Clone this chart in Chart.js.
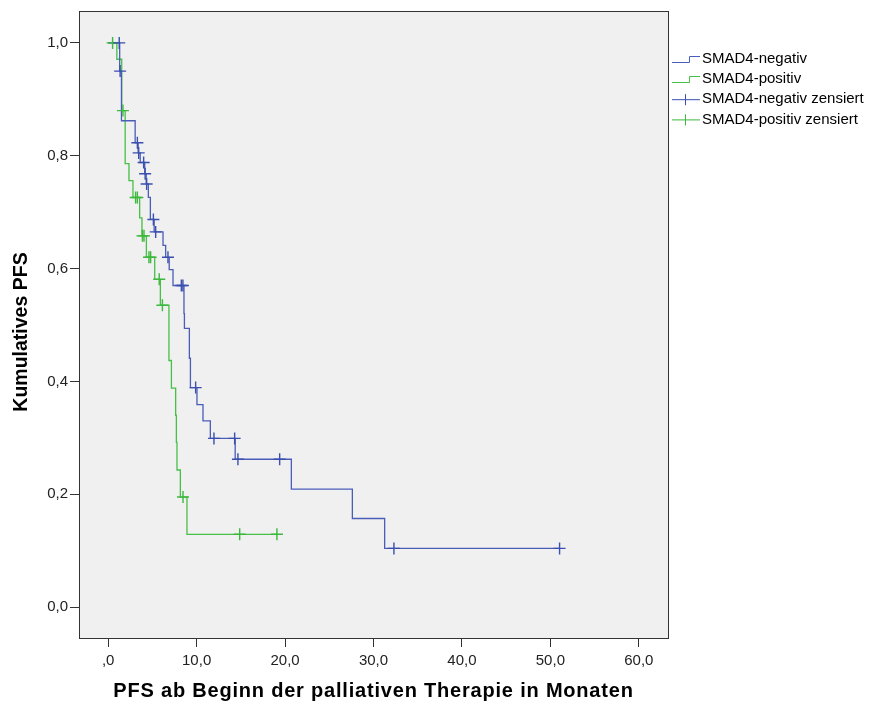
<!DOCTYPE html>
<html>
<head>
<meta charset="utf-8">
<script src="https://cdn.jsdelivr.net/npm/chart.js@4/dist/chart.umd.min.js"></script>
<style>
  html, body { margin: 0; padding: 0; background: #ffffff; }
  #c { display: block; }
</style>
</head>
<body>
<canvas id="c" width="872" height="706"></canvas>
<script>
// ---- Data ----
const seriesNames = ['SMAD4-negativ', 'SMAD4-positiv', 'SMAD4-negativ zensiert', 'SMAD4-positiv zensiert'];

// SMAD4-negativ: event times (months) and survival after each event
const negTimes = [0, 1.3, 1.5, 3.05, 3.39, 3.62, 4.13, 4.30, 4.54, 4.77, 5.2, 6.2, 6.5, 6.9, 7.33, 8.57, 8.62, 9.18, 9.3, 10.04, 10.72, 11.55, 14.36, 20.71, 27.61, 31.26];
const negSurv  = [1.0, 0.950, 0.862, 0.823, 0.805, 0.788, 0.768, 0.750, 0.726, 0.687, 0.665, 0.641, 0.620, 0.598, 0.570, 0.520, 0.494, 0.441, 0.389, 0.359, 0.330, 0.299, 0.262, 0.209, 0.157, 0.104];
const negCensored = [1.25, 1.35, 3.3, 3.45, 4.01, 4.18, 4.35, 5.11, 5.37, 6.76, 8.27, 8.45, 9.89, 11.96, 14.3, 14.67, 19.39, 32.31, 51.04];

// SMAD4-positiv
const posTimes = [0, 0.98, 1.53, 1.92, 2.35, 2.80, 3.56, 3.82, 4.32, 5.26, 5.90, 6.87, 7.15, 7.63, 7.71, 7.78, 8.16, 8.91];
const posSurv  = [1.0, 0.971, 0.880, 0.786, 0.756, 0.726, 0.690, 0.658, 0.620, 0.581, 0.535, 0.437, 0.388, 0.340, 0.292, 0.243, 0.195, 0.129];
const posCensored = [0.5, 1.67, 3.1, 3.3, 3.87, 4.05, 4.61, 4.8, 5.77, 6.13, 8.46, 14.87, 19.08];

const xTickValues = [0, 10, 20, 30, 40, 50, 60];
const xTickLabels = [',0', '10,0', '20,0', '30,0', '40,0', '50,0', '60,0'];
const yTickValues = [0, 0.2, 0.4, 0.6, 0.8, 1.0];
const yTickLabels = ['0,0', '0,2', '0,4', '0,6', '0,8', '1,0'];

const xTitle = 'PFS ab Beginn der palliativen Therapie in Monaten';
const yTitle = 'Kumulatives PFS';

// ---- Helpers ----
function survivalAt(times, surv, t) {
  let s = surv[0];
  for (let i = 0; i < times.length; i++) { if (times[i] <= t) s = surv[i]; }
  return s;
}
function stepPoints(times, surv, censored) {
  const pts = times.map((t, i) => ({ x: t, y: surv[i] }));
  const lastC = Math.max.apply(null, censored);
  if (lastC > times[times.length - 1]) pts.push({ x: lastC, y: surv[surv.length - 1] });
  return pts;
}
function censorPoints(times, surv, censored) {
  return censored.map(t => ({ x: t, y: survivalAt(times, surv, t) }));
}

const BLUE = '#4a5db8';
const BLUE_MARK = '#3a4fae';
const GREEN = '#48bf48';
const GREEN_MARK = '#3cb83c';
const FONT = '"Liberation Sans", Arial, sans-serif';

const bgPlugin = {
  id: 'bg',
  beforeDraw(chart) {
    const { ctx, chartArea: a } = chart;
    ctx.save();
    ctx.fillStyle = '#ffffff';
    ctx.fillRect(0, 0, chart.width, chart.height);
    ctx.fillStyle = '#f0f0f0';
    ctx.fillRect(a.left, a.top, a.right - a.left, a.bottom - a.top);
    ctx.restore();
  },
  afterDraw(chart) {
    const { ctx, chartArea: a } = chart;
    ctx.save();
    ctx.strokeStyle = '#333333';
    ctx.lineWidth = 1;
    ctx.strokeRect(Math.round(a.left) + 0.5, Math.round(a.top) + 0.5, Math.round(a.right - a.left), Math.round(a.bottom - a.top));

    // axis titles
    ctx.fillStyle = '#000000';
    ctx.textAlign = 'center';
    ctx.textBaseline = 'middle';
    ctx.font = 'bold 20px ' + FONT;
    try { ctx.letterSpacing = '0.8px'; } catch (e) {}
    ctx.fillText(xTitle, (a.left + a.right) / 2, 691);
    try { ctx.letterSpacing = '0px'; } catch (e) {}
    ctx.save();
    ctx.translate(22, 332);
    ctx.rotate(-Math.PI / 2);
    ctx.font = 'bold 19.5px ' + FONT;
    ctx.fillText(yTitle, 0, 0);
    ctx.restore();

    // legend
    const colors = [BLUE, GREEN, BLUE_MARK, GREEN_MARK];
    const x0 = 672, x1 = 700, tx = 702;
    const rowY = [59, 79, 99.2, 119.4];
    ctx.font = '15px ' + FONT;
    ctx.textBaseline = 'middle';
    ctx.textAlign = 'left';
    seriesNames.forEach((name, i) => {
      const y = rowY[i];
      ctx.strokeStyle = colors[i];
      ctx.lineWidth = 1;
      ctx.beginPath();
      if (i < 2) {
        ctx.moveTo(x0, y + 3.5);
        ctx.lineTo(689.5, y + 3.5);
        ctx.lineTo(689.5, y - 2.5);
        ctx.lineTo(x1, y - 2.5);
      } else {
        ctx.moveTo(x0, y + 0.5);
        ctx.lineTo(x1, y + 0.5);
        ctx.moveTo(685.5, y - 5);
        ctx.lineTo(685.5, y + 6);
      }
      ctx.stroke();
      ctx.fillStyle = '#000000';
      ctx.fillText(name, tx, y);
    });
    ctx.restore();
  }
};

new Chart(document.getElementById('c'), {
  type: 'scatter',
  data: {
    datasets: [
      { label: seriesNames[2], data: censorPoints(negTimes, negSurv, negCensored), showLine: false,
        pointStyle: 'cross', pointRadius: 6, pointBorderWidth: 1.4, borderColor: BLUE_MARK, backgroundColor: BLUE_MARK },
      { label: seriesNames[3], data: censorPoints(posTimes, posSurv, posCensored), showLine: false,
        pointStyle: 'cross', pointRadius: 6, pointBorderWidth: 1.4, borderColor: GREEN_MARK, backgroundColor: GREEN_MARK },
      { label: seriesNames[0], data: stepPoints(negTimes, negSurv, negCensored), showLine: true, stepped: 'before',
        borderColor: BLUE, borderWidth: 1.3, pointRadius: 0, fill: false },
      { label: seriesNames[1], data: stepPoints(posTimes, posSurv, posCensored), showLine: true, stepped: 'before',
        borderColor: GREEN, borderWidth: 1.3, pointRadius: 0, fill: false }
    ]
  },
  options: {
    responsive: false,
    animation: false,
    events: [],
    layout: { padding: { left: 0, right: 204, top: 9, bottom: 0 } },
    plugins: { legend: { display: false }, tooltip: { enabled: false } },
    scales: {
      x: {
        type: 'linear', min: -3.3, max: 63.3,
        afterFit(s) { s.height = 68; },
        afterBuildTicks(s) { s.ticks = xTickValues.map(v => ({ value: v })); },
        ticks: {
          callback: (v) => xTickLabels[xTickValues.indexOf(v)],
          font: { family: FONT, size: 15 }, color: '#222222', padding: 5,
          autoSkip: false, maxRotation: 0, minRotation: 0
        },
        grid: { drawOnChartArea: false, drawTicks: true, tickLength: 9, color: '#333333', lineWidth: 1 },
        border: { display: false },
        title: { display: false, text: xTitle }
      },
      y: {
        type: 'linear', min: -0.0548, max: 1.0565,
        afterFit(s) { s.width = 79; },
        afterBuildTicks(s) { s.ticks = yTickValues.map(v => ({ value: v })); },
        ticks: {
          callback: (v) => yTickLabels[yTickValues.indexOf(v)],
          font: { family: FONT, size: 15 }, color: '#222222', padding: 2, autoSkip: false
        },
        grid: { drawOnChartArea: false, drawTicks: true, tickLength: 9, color: '#333333', lineWidth: 1 },
        border: { display: false },
        title: { display: false, text: yTitle }
      }
    }
  },
  plugins: [bgPlugin]
});
</script>
</body>
</html>
